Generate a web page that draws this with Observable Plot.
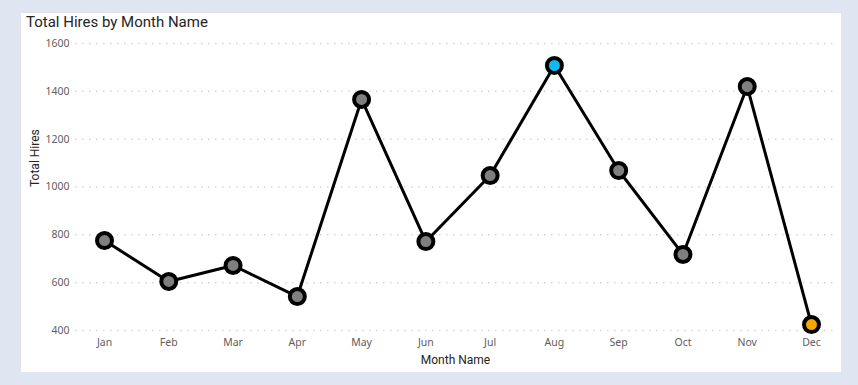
<!DOCTYPE html>
<html>
<head>
<meta charset="utf-8">
<script src="https://cdn.jsdelivr.net/npm/d3@7"></script>
<script src="https://cdn.jsdelivr.net/npm/@observablehq/plot@0.6"></script>
<style>
  html, body { margin: 0; padding: 0; }
  body { width: 858px; height: 385px; background: #dfe6f2; position: relative; overflow: hidden; }
  #panel { position: absolute; left: 21px; top: 13px; width: 820px; height: 359px; background: #ffffff; }
  #title { position: absolute; left: 5px; top: 0px; font-family: Roboto, "Noto Sans", sans-serif; font-size: 15px; color: #252423; line-height: 18px; }
  #chart { position: absolute; left: 0; top: 0; }
</style>
</head>
<body>
<div id="panel">
  <div id="chart"></div>
  <div id="title">Total Hires by Month Name</div>
</div>
<script>
const months = ["Jan","Feb","Mar","Apr","May","Jun","Jul","Aug","Sep","Oct","Nov","Dec"];
const hires = [776, 605, 672, 542, 1366, 772, 1048, 1508, 1069, 718, 1420, 425];
const yTicks = [400, 600, 800, 1000, 1200, 1400, 1600];

const data = months.map((m, i) => ({month: m, hires: hires[i]}));
const maxV = d3.max(hires), minV = d3.min(hires);
const fillFor = d => d.hires === maxV ? "#12b8f0" : d.hires === minV ? "#f6a700" : "#7f7f7f";

const chart = Plot.plot({
  width: 820,
  height: 359,
  marginLeft: 54,
  marginRight: 6,
  marginTop: 30,
  marginBottom: 42,
  style: {fontFamily: "'Noto Sans', 'Open Sans', sans-serif", fontSize: "10.5px", color: "#605e5c", background: "transparent"},
  x: {type: "point", domain: months, range: [83, 790], padding: 0, round: false, label: null},
  y: {domain: [400, 1600], range: [317, 30], label: null},
  marks: [
    Plot.gridY(yTicks, {stroke: "#d6d6d6", strokeOpacity: 1, strokeDasharray: "1.5,5.5", strokeWidth: 1.5}),
    Plot.axisY(yTicks, {tickSize: 0, tickPadding: 6, label: null, fill: "#605e5c", tickFormat: "d"}),
    Plot.axisX(months, {tickSize: 0, tickPadding: 8, label: null, fill: "#605e5c"}),
    Plot.text(["Total Hires"], {frameAnchor: "left", dx: -40, rotate: -90, fontSize: 12, fill: "#252423", fontFamily: "Roboto, sans-serif"}),
    Plot.text(["Month Name"], {frameAnchor: "bottom", dy: 33, fontSize: 12, fill: "#252423", fontFamily: "Roboto, sans-serif"}),
    Plot.line(data, {x: "month", y: "hires", stroke: "#000", strokeWidth: 3}),
    Plot.dot(data, {x: "month", y: "hires", r: 7.5, fill: fillFor, stroke: "#000", strokeWidth: 4})
  ]
});
document.getElementById("chart").appendChild(chart);
</script>
</body>
</html>
